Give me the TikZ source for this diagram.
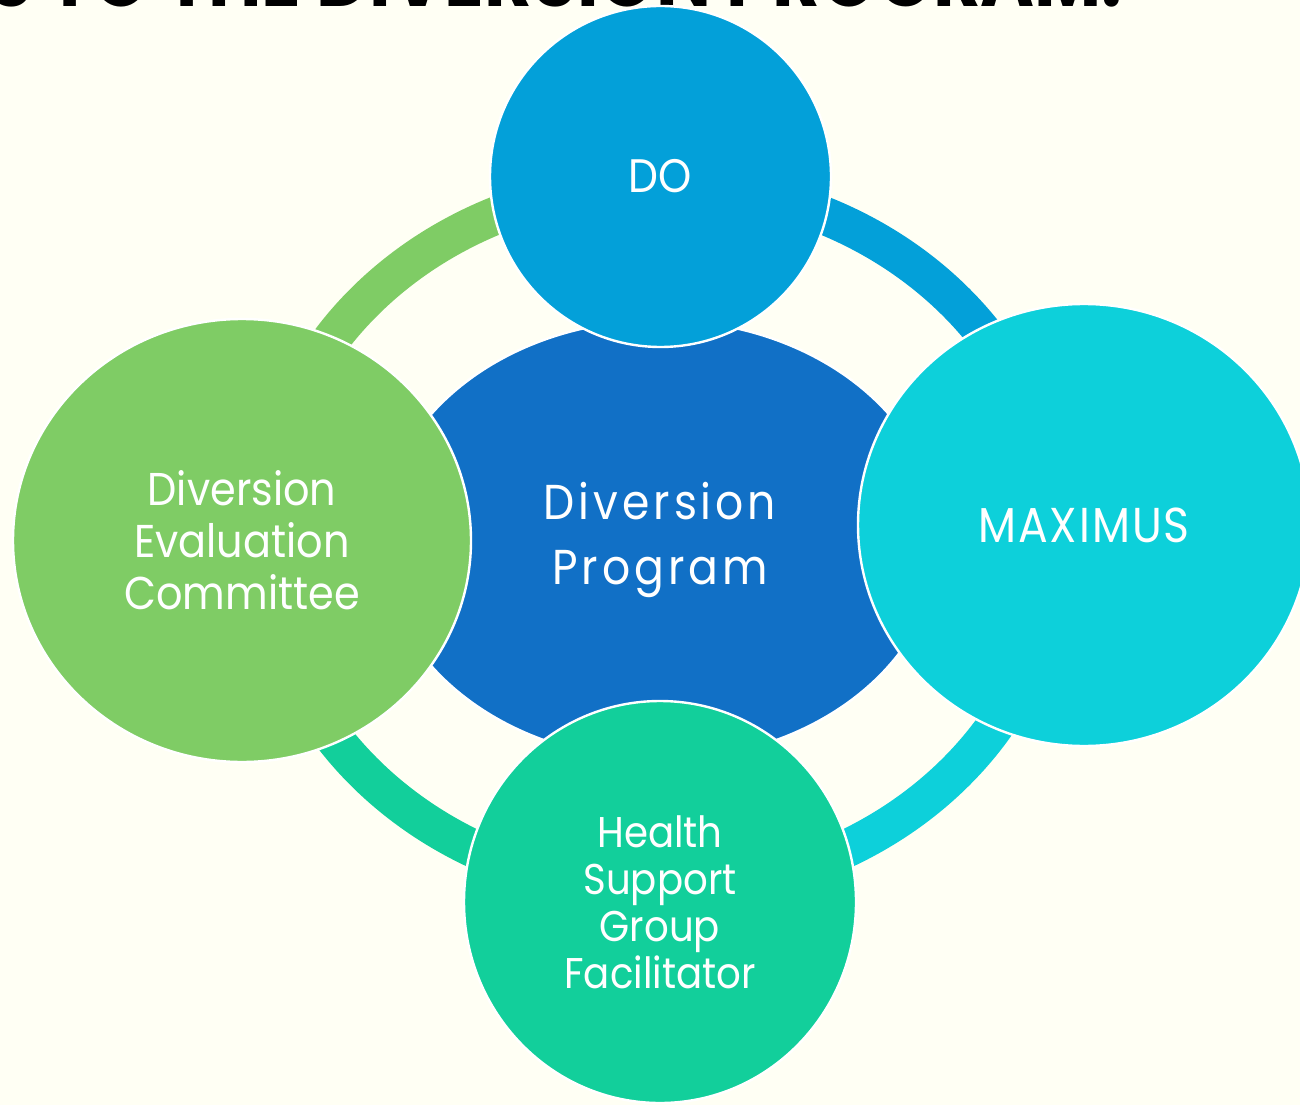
\documentclass[tikz,border=0pt]{standalone}
\usepackage{fontspec}
\newfontfamily\tw[FakeStretch=0.9]{Poppins}
\newfontfamily\twwide[FakeStretch=0.9,LetterSpace=8]{Poppins}
\newfontfamily\twmid[FakeStretch=0.9,LetterSpace=4]{Poppins}
\usetikzlibrary{shapes.geometric}
\definecolor{bg}{HTML}{FFFFF4}
\definecolor{centc}{HTML}{1170C6}
\definecolor{doc}{HTML}{03A0D9}
\definecolor{maxc}{HTML}{0DD0DA}
\definecolor{greenc}{HTML}{7FCC65}
\definecolor{healthc}{HTML}{12CF9B}
\begin{document}
\begin{tikzpicture}[x=0.5pt,y=0.5pt,
  bubble/.style={ellipse, inner sep=0pt, draw=white, line width=1.2pt, text=white, align=center},
  ringarc/.style={line width=19pt, line cap=butt}]
\useasboundingbox (0,0) rectangle (1300,1105);
\clip (0,0) rectangle (1300,1105);
\fill[bg] (0,0) rectangle (1300,1105);
\node[anchor=base west, inner sep=0pt] (title) at (-12,1098)
  {\resizebox{567pt}{30pt}{\tw\bfseries S TO THE DIVERSION PROGRAM:}};
% ring arcs
\draw[ringarc, greenc] (660,921) arc[start angle=90, end angle=180, x radius=198.25pt, y radius=176.5pt];
\draw[ringarc, doc] (1056.5,568) arc[start angle=0, end angle=90, x radius=198.25pt, y radius=176.5pt];
\draw[ringarc, maxc] (660,215) arc[start angle=270, end angle=360, x radius=198.25pt, y radius=176.5pt];
\draw[ringarc, healthc] (263.5,568) arc[start angle=180, end angle=270, x radius=198.25pt, y radius=176.5pt];
% central
\node[bubble, fill=centc, minimum width=279pt, minimum height=220pt,
  font=\twwide\fontsize{24.5pt}{32.5pt}\selectfont] (prog) at (660,565) {Diversion\\Program};
% satellites
\node[bubble, fill=doc, minimum width=170.5pt, minimum height=170.5pt,
  font=\tw\fontsize{23.5pt}{26pt}\selectfont] (do) at (660.5,928.5) {DO};
\node[bubble, fill=greenc, minimum width=229pt, minimum height=221.5pt,
  font=\tw\fontsize{23pt}{26pt}\selectfont] (dec) at (242,564.5) {Diversion\\Evaluation\\Committee};
\node[bubble, fill=maxc, minimum width=226pt, minimum height=221pt,
  font=\twmid\fontsize{24.5pt}{26pt}\selectfont] (max) at (1084,580) {MAXIMUS};
\node[bubble, fill=healthc, minimum width=196pt, minimum height=201pt,
  font=\tw\fontsize{21.5pt}{23.5pt}\selectfont] (hsg) at (660,203) {Health\\Support\\Group\\Facilitator};
\end{tikzpicture}
\end{document}
